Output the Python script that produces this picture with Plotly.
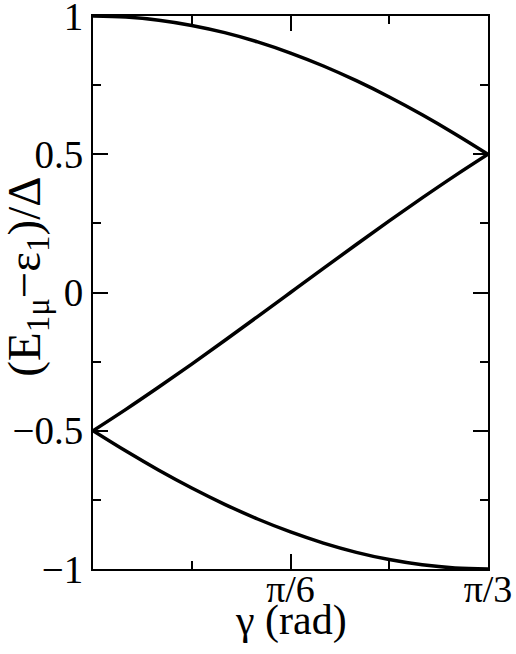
import plotly.graph_objects as go

# gamma in radians, 0 .. pi/3
gamma = [0.0, 0.0873, 0.1745, 0.2618, 0.3491, 0.4363, 0.5236,
         0.6109, 0.6981, 0.7854, 0.8727, 0.9599, 1.0472]

upper = [1.0, 0.9962, 0.9848, 0.9659, 0.9397, 0.9063, 0.8660,
         0.8192, 0.7660, 0.7071, 0.6428, 0.5736, 0.5]
middle = [-0.5, -0.4226, -0.3420, -0.2588, -0.1736, -0.0872, 0.0,
          0.0872, 0.1736, 0.2588, 0.3420, 0.4226, 0.5]
lower = [-0.5, -0.5736, -0.6428, -0.7071, -0.7660, -0.8192, -0.8660,
         -0.9063, -0.9397, -0.9659, -0.9848, -0.9962, -1.0]

x_tickvals = [0.5236, 1.0472]
x_ticktext = ["π/6", "π/3"]
x_minorvals = [0.2618, 0.7854]
y_tickvals = [-1, -0.5, 0, 0.5, 1]
y_ticktext = ["−1", "−0.5", "0", "0.5", "1"]
y_minorvals = [-0.75, -0.25, 0.25, 0.75]

fig = go.Figure()
for ys in (upper, middle, lower):
    fig.add_trace(go.Scatter(
        x=gamma, y=ys, mode="lines",
        line=dict(color="black", width=3.5, shape="spline"),
        showlegend=False,
    ))

fig.update_xaxes(
    range=[0, 1.0472], automargin=False, ticklabeloverflow="allow",
    ticklabelstandoff=-15,
    tickmode="array", tickvals=x_tickvals, ticktext=x_ticktext,
    minor=dict(tickmode="array", tickvals=x_minorvals, ticks="inside",
               ticklen=8, tickwidth=1.5, tickcolor="black"),
    showline=True, linecolor="black", linewidth=1.8, mirror="ticks",
    ticks="inside", ticklen=15, tickwidth=1.5, tickcolor="black",
    showgrid=False, zeroline=False,
    tickfont=dict(size=38),
)
fig.update_yaxes(
    range=[-1, 1], automargin=False, ticklabeloverflow="allow",
    tickmode="array", tickvals=y_tickvals, ticktext=y_ticktext,
    minor=dict(tickmode="array", tickvals=y_minorvals, ticks="inside",
               ticklen=8, tickwidth=1.5, tickcolor="black"),
    showline=True, linecolor="black", linewidth=1.8, mirror="ticks",
    ticks="inside", ticklen=15, tickwidth=1.5, tickcolor="black",
    showgrid=False, zeroline=False,
    tickfont=dict(size=39),
)

# axis titles placed by hand
fig.add_annotation(
    text="(E<sub>1μ</sub>−ε<sub>1</sub>)/Δ",
    xref="paper", yref="paper", x=-0.168, y=0.528,
    xanchor="center", yanchor="middle", textangle=-90,
    showarrow=False, font=dict(size=47),
)
fig.add_annotation(
    text="γ (rad)",
    xref="paper", yref="paper", x=0.5, y=-0.094,
    xanchor="center", yanchor="middle",
    showarrow=False, font=dict(size=42),
)

fig.update_layout(
    width=516, height=654,
    margin=dict(l=93, r=28, t=16, b=85),
    font=dict(family="Liberation Serif", color="black"),
    plot_bgcolor="white", paper_bgcolor="white",
)

# drop the page's default body margin so the figure sits at the window corner
fig.write_html("out.html", config={"displayModeBar": False},
               post_script="document.body.style.margin='0';")
